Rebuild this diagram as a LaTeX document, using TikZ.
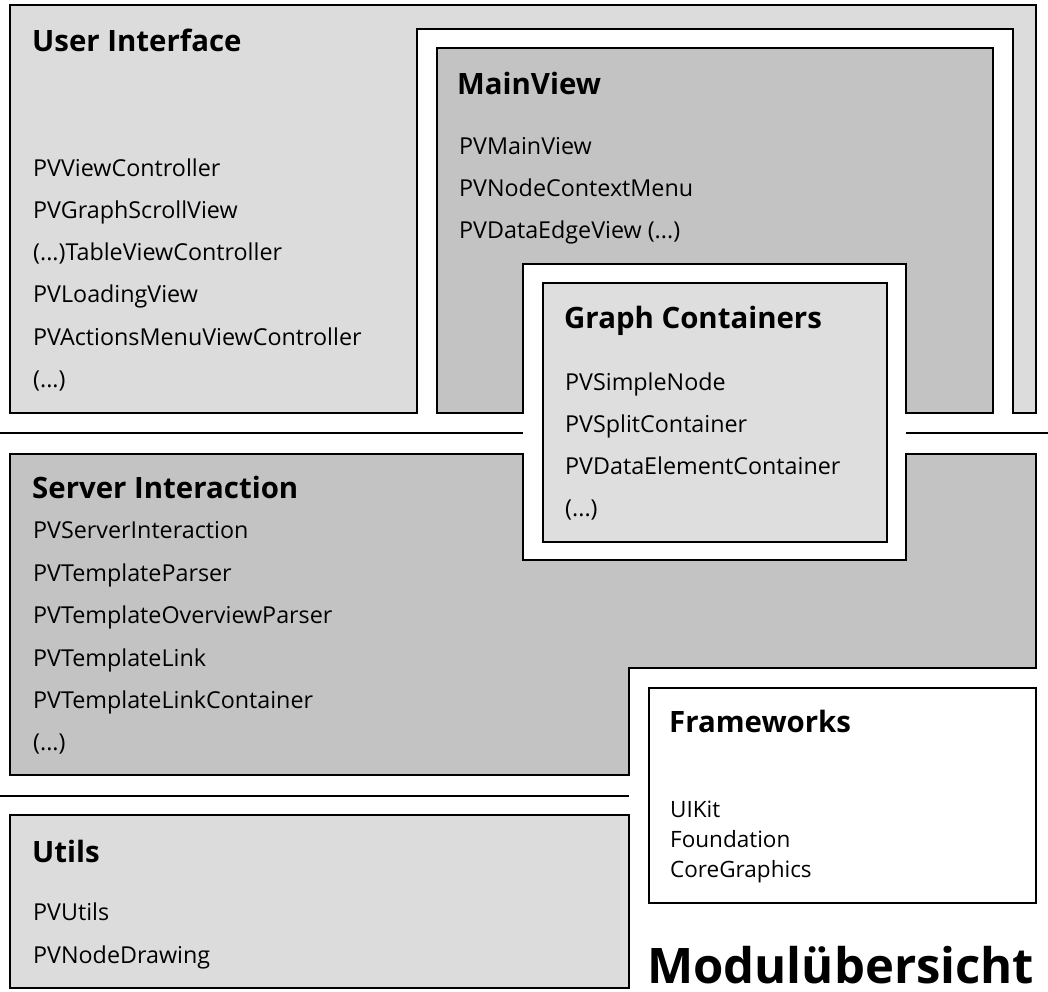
\documentclass[tikz,border=0pt]{standalone}
\usepackage{fontspec}
\setmainfont{Open Sans}
\definecolor{lightgr}{HTML}{DCDCDC}
\definecolor{darkgr}{HTML}{C3C3C3}
\definecolor{gcgr}{HTML}{DEDEDE}
\begin{document}
\begin{tikzpicture}[x=1pt,y=-1pt,
  frame/.style={draw=black,line width=2pt,line join=miter},
  sep/.style={draw=black,line width=2pt},
  title/.style={anchor=base west,inner sep=0pt,font=\fontsize{29.4}{34}\selectfont\bfseries},
  item/.style={anchor=base west,inner sep=0pt,font=\fontsize{23.3}{27}\selectfont},
  fwitem/.style={anchor=base west,inner sep=0pt,font=\fontsize{22.5}{25}\selectfont},
  bigtitle/.style={anchor=base west,inner sep=0pt,text depth=0pt,font=\fontsize{49}{54}\selectfont\bfseries}]
\useasboundingbox (0,0) rectangle (1048,991);
\fill[white] (0,0) rectangle (1048,991);
% User Interface
\draw[frame,fill=lightgr] (10,5) -- (1036,5) -- (1036,413) -- (1013,413) -- (1013,29) -- (417,29) -- (417,413) -- (10,413) -- cycle;
% MainView
\draw[frame,fill=darkgr] (437,48) -- (993,48) -- (993,413) -- (906,413) -- (906,264) -- (523,264) -- (523,413) -- (437,413) -- cycle;
% separators
\draw[sep] (0,433) -- (523,433);
\draw[sep] (906,433) -- (1048,433);
% Server Interaction
\draw[frame,fill=darkgr] (10,454) -- (523,454) -- (523,560) -- (906,560) -- (906,454) -- (1036,454) -- (1036,668) -- (629,668) -- (629,775) -- (10,775) -- cycle;
% Graph Containers
\draw[frame,fill=gcgr] (543,283) rectangle (887,542);
% separator 2
\draw[sep] (0,796) -- (629,796);
% Utils
\draw[frame,fill=lightgr] (10,815) rectangle (629,988);
% Frameworks
\draw[frame,fill=white] (649,688) rectangle (1036,903);

% texts
\node[title] (uiT) at (32,51) {User Interface};
\node[item] (ui1) at (33,176) {PVViewController};
\node[item] (ui2) at (33,218) {PVGraphScrollView};
\node[item] (ui3) at (33,260) {(...)TableViewController};
\node[item] (ui4) at (33,302) {PVLoadingView};
\node[item] (ui5) at (33,345) {PVActionsMenuViewController};
\node[item] (ui6) at (33,387) {(...)};

\node[title] (mvT) at (457,94) {MainView};
\node[item] (mv1) at (459,154) {PVMainView};
\node[item] (mv2) at (459,196) {PVNodeContextMenu};
\node[item] (mv3) at (459,238) {PVDataEdgeView (...)};

\node[title] (gcT) at (564,328) {Graph Containers};
\node[item] (gc1) at (565,390) {PVSimpleNode};
\node[item] (gc2) at (565,432) {PVSplitContainer};
\node[item] (gc3) at (565,474) {PVDataElementContainer};
\node[item] (gc4) at (565,516) {(...)};

\node[title] (siT) at (32,498) {Server Interaction};
\node[item] (si1) at (33,538) {PVServerInteraction};
\node[item] (si2) at (33,581) {PVTemplateParser};
\node[item] (si3) at (33,623) {PVTemplateOverviewParser};
\node[item] (si4) at (33,666) {PVTemplateLink};
\node[item] (si5) at (33,708) {PVTemplateLinkContainer};
\node[item] (si6) at (33,750) {(...)};

\node[title] (utT) at (32,862) {Utils};
\node[item] (ut1) at (33,920) {PVUtils};
\node[item] (ut2) at (33,963) {PVNodeDrawing};

\node[title] (fwT) at (669,732) {Frameworks};
\node[fwitem] (fw1) at (670,817) {UIKit};
\node[fwitem] (fw2) at (670,847) {Foundation};
\node[fwitem] (fw3) at (670,877) {CoreGraphics};

\node[bigtitle] (mod) at (647,983) {Modulübersicht};
\end{tikzpicture}
\end{document}
